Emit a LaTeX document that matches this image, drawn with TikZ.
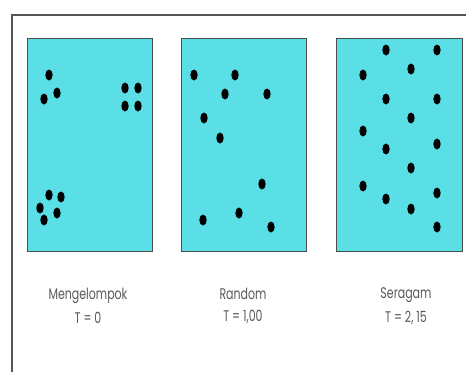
\documentclass[tikz,border=0pt]{standalone}
\usepackage{fontspec}
\setmainfont{Poppins}
\definecolor{panelcyan}{HTML}{5ADFE6}
\definecolor{framegray}{HTML}{555555}
\definecolor{textgray}{HTML}{5A5A5A}
\begin{document}
\begin{tikzpicture}[x=1pt,y=-1pt,
  panel/.style={fill=panelcyan,draw=black!70,line width=0.9pt},
  dot/.style={fill=black,draw=none},
  lbl/.style={text=textgray,font=\fontsize{11}{14}\selectfont,align=center,inner sep=0pt}]
\useasboundingbox (0,0) rectangle (466,372);
\fill[white] (0,0) rectangle (466,372);
% outer frame (cut at right and bottom)
\draw[framegray,line width=1.3pt] (12,372) -- (12,15) -- (466,15);
% panels
\draw[panel] (27,38) rectangle (152,251);
\draw[panel] (181,38) rectangle (306,251);
\draw[panel] (336,38) rectangle (462,251);
% panel 1 dots: clustered
\foreach \x/\y in {49/75,57/93,44/99,125/88,138/88,125/106,138/106,
                   49/195,61/197,40/208,57/213,44/220}
  \fill[dot] (\x,\y) ellipse [x radius=3.7,y radius=5.5];
% panel 2 dots: random
\foreach \x/\y in {194/75,235/75,225/94,267/94,204/118,220/138,
                   262/184,239/213,271/227,203/220}
  \fill[dot] (\x,\y) ellipse [x radius=3.7,y radius=5.5];
% panel 3 dots: uniform
\foreach \x/\y in {386/50,437/50,411/69,363/75,386/99,437/99,411/118,363/131,
                   437/144,386/149,411/168,363/186,437/193,386/199,411/209,437/227}
  \fill[dot] (\x,\y) ellipse [x radius=3.7,y radius=5.5];
% labels
\node[lbl] (l1) at (88,306) {\scalebox{1}[1.4]{Mengelompok}\\[8pt]\scalebox{1}[1.4]{T = 0}};
\node[lbl] (l2) at (243,306) {\scalebox{1}[1.4]{Random}\\[8pt]\scalebox{1}[1.4]{T = 1,00}};
\node[lbl] (l3) at (406,306) {\scalebox{1}[1.4]{Seragam}\\[8pt]\scalebox{1}[1.4]{T = 2, 15}};
\end{tikzpicture}
\end{document}
